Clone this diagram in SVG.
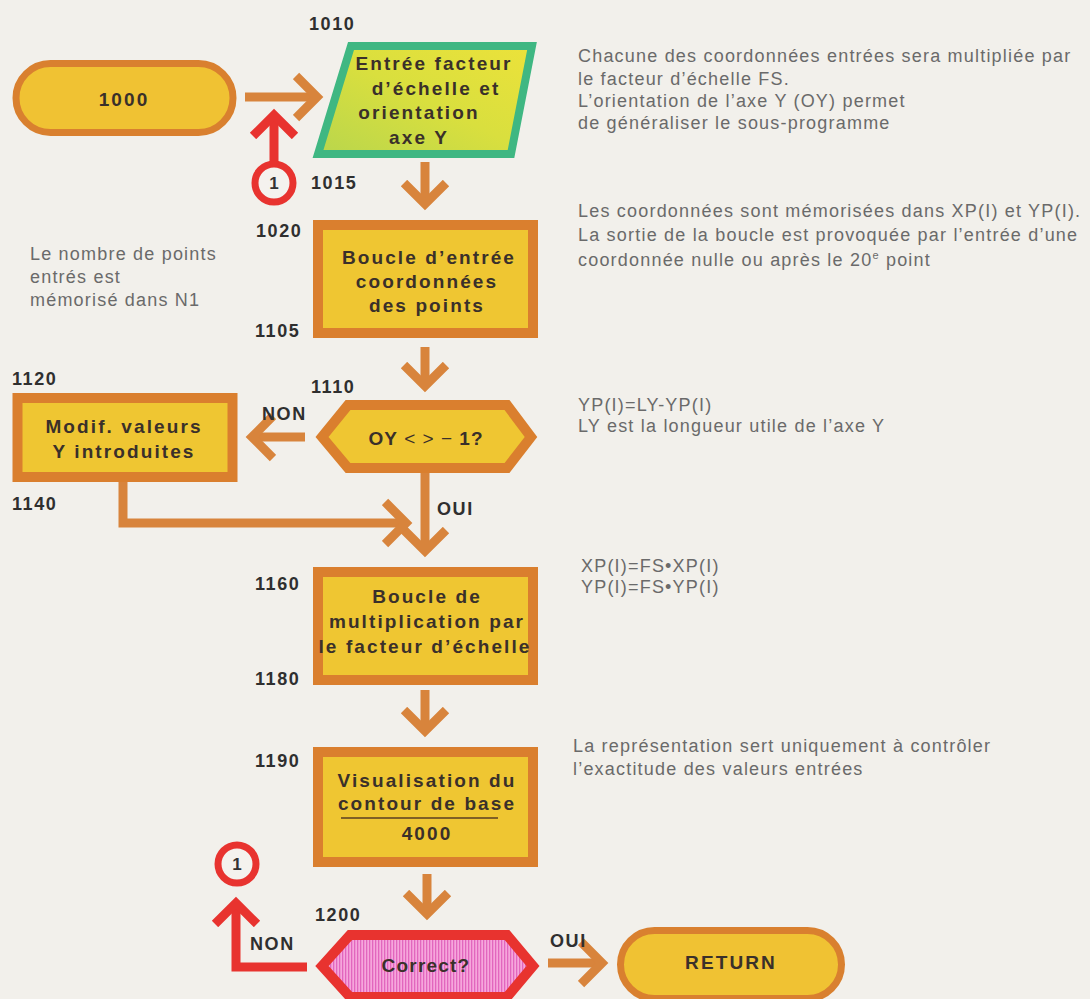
<svg xmlns="http://www.w3.org/2000/svg" width="1090" height="999" viewBox="0 0 1090 999">
  <defs>
    <style>
      .bg { fill: #f2f0eb; }
      .box { fill: #efc632; stroke: #da7f2e; stroke-width: 10; }
      .pill { fill: #f0c233; stroke: #d9802f; stroke-width: 7; }
      .hex { fill: #efc632; stroke: #da7f2e; stroke-width: 10; stroke-linejoin: miter; }
      .hexred { fill: url(#pinkStripes); stroke: #e8332f; stroke-width: 10; stroke-linejoin: miter; }
      .para { fill: url(#paraFill); stroke: #3fb782; stroke-width: 8; stroke-linejoin: miter; }
      .node { font-family: "Liberation Sans", Arial, Helvetica, sans-serif; font-weight: bold; font-size: 19px; letter-spacing: 2.1px; fill: #3a302a; text-anchor: middle; }
      .lbl { font-family: "Liberation Sans", Arial, Helvetica, sans-serif; font-weight: bold; font-size: 18px; letter-spacing: 1.6px; fill: #2f2f2f; }
      .note { font-family: "Liberation Sans", Arial, Helvetica, sans-serif; font-size: 18px; letter-spacing: 1.2px; fill: #6a6a6a; }
      .wire { fill: none; stroke: #d8843c; stroke-width: 9; stroke-linejoin: miter; }
      .wirered { fill: none; stroke: #e8332f; stroke-width: 9; stroke-linejoin: miter; }
      .ring { fill: #f4f2ee; stroke: #e8332f; stroke-width: 7; }
      .ringtxt { font-family: "Liberation Sans", Arial, Helvetica, sans-serif; font-weight: bold; font-size: 17px; fill: #333; text-anchor: middle; }
    </style>
    <linearGradient id="paraFill" x1="0" y1="1" x2="1" y2="0">
      <stop offset="0" stop-color="#b9d64c"/>
      <stop offset="0.5" stop-color="#d9df3e"/>
      <stop offset="1" stop-color="#ece23a"/>
    </linearGradient>
    <pattern id="pinkStripes" width="3" height="10" patternUnits="userSpaceOnUse">
      <rect width="3" height="10" fill="#f6a6dc"/>
      <rect width="1.3" height="10" fill="#e266be"/>
    </pattern>
    <marker id="headOrange" viewBox="0 0 34 50" refX="24" refY="25" markerWidth="34" markerHeight="50" orient="auto" markerUnits="userSpaceOnUse">
      <path d="M3,4 L24,25 L3,46" fill="none" stroke="#d8843c" stroke-width="9"/>
    </marker>
    <marker id="headRed" viewBox="0 0 34 50" refX="24" refY="25" markerWidth="34" markerHeight="50" orient="auto" markerUnits="userSpaceOnUse">
      <path d="M3,4 L24,25 L3,46" fill="none" stroke="#e8332f" stroke-width="9"/>
    </marker>
  </defs>

  <rect class="bg" x="0" y="0" width="1090" height="999"/>

  <!-- connectors -->
  <g id="connectors">
    <line class="wire" x1="245" y1="97" x2="317" y2="97" marker-end="url(#headOrange)"/>
    <line class="wirered" x1="274" y1="162" x2="274" y2="115" marker-end="url(#headRed)"/>
    <line class="wire" x1="425" y1="162" x2="425" y2="204" marker-end="url(#headOrange)"/>
    <line class="wire" x1="425" y1="347" x2="425" y2="386" marker-end="url(#headOrange)"/>
    <line class="wire" x1="305" y1="437" x2="252" y2="437" marker-end="url(#headOrange)"/>
    <line class="wire" x1="425" y1="473" x2="425" y2="551" marker-end="url(#headOrange)"/>
    <polyline class="wire" points="123,482 123,523 406,523" marker-end="url(#headOrange)"/>
    <line class="wire" x1="425" y1="690" x2="425" y2="731" marker-end="url(#headOrange)"/>
    <line class="wire" x1="427" y1="874" x2="427" y2="914" marker-end="url(#headOrange)"/>
    <polyline class="wirered" points="307,967 236,967 236,903" marker-end="url(#headRed)"/>
    <line class="wire" x1="548" y1="963" x2="602" y2="963" marker-end="url(#headOrange)"/>
  </g>

  <!-- step labels -->
  <g id="labels">
    <text class="lbl" x="309" y="30">1010</text>
    <text class="lbl" x="311" y="189">1015</text>
    <text class="lbl" x="256" y="237">1020</text>
    <text class="lbl" x="255" y="337">1105</text>
    <text class="lbl" x="311" y="393">1110</text>
    <text class="lbl" x="12" y="385">1120</text>
    <text class="lbl" x="262" y="420">NON</text>
    <text class="lbl" x="12" y="510">1140</text>
    <text class="lbl" x="437" y="515">OUI</text>
    <text class="lbl" x="255" y="590">1160</text>
    <text class="lbl" x="255" y="685">1180</text>
    <text class="lbl" x="255" y="767">1190</text>
    <text class="lbl" x="315" y="921">1200</text>
    <text class="lbl" x="250" y="950">NON</text>
    <text class="lbl" x="550" y="947">OUI</text>
  </g>

  <!-- side notes -->
  <g id="notes">
    <text class="note" x="30" y="260">Le nombre de points</text>
    <text class="note" x="30" y="283">entrés est</text>
    <text class="note" x="30" y="306">mémorisé dans N1</text>

    <text class="note" x="578" y="62">Chacune des coordonnées entrées sera multipliée par</text>
    <text class="note" x="578" y="85">le facteur d’échelle FS.</text>
    <text class="note" x="578" y="107">L’orientation de l’axe Y (OY) permet</text>
    <text class="note" x="578" y="129">de généraliser le sous-programme</text>

    <text class="note" x="578" y="217">Les coordonnées sont mémorisées dans XP(I) et YP(I).</text>
    <text class="note" x="578" y="241">La sortie de la boucle est provoquée par l’entrée d’une</text>
    <text class="note" x="578" y="266">coordonnée nulle ou après le 20<tspan font-size="11" dy="-7">e</tspan><tspan dy="7"> point</tspan></text>

    <text class="note" x="578" y="411">YP(I)=LY-YP(I)</text>
    <text class="note" x="578" y="432">LY est la longueur utile de l’axe Y</text>

    <text class="note" x="581" y="572">XP(I)=FS•XP(I)</text>
    <text class="note" x="581" y="593">YP(I)=FS•YP(I)</text>

    <text class="note" x="573" y="752">La représentation sert uniquement à contrôler</text>
    <text class="note" x="573" y="775">l’exactitude des valeurs entrées</text>
  </g>

  <!-- nodes -->
  <g id="n1000">
    <rect class="pill" x="16" y="63.5" width="217" height="69" rx="34.5"/>
    <text class="node" x="124" y="106">1000</text>
  </g>

  <g id="n1010">
    <polygon class="para" points="351,46 532,46 511,154 318,154"/>
    <text class="node" x="434" y="70">Entrée facteur</text>
    <text class="node" x="436" y="95">d’échelle et</text>
    <text class="node" x="419" y="119">orientation</text>
    <text class="node" x="419" y="144">axe Y</text>
  </g>

  <g id="c1015">
    <circle class="ring" cx="274" cy="183" r="19"/>
    <text class="ringtxt" x="274" y="189">1</text>
  </g>

  <g id="n1020">
    <rect class="box" x="318" y="225" width="215" height="108"/>
    <text class="node" x="429" y="264">Boucle d’entrée</text>
    <text class="node" x="427" y="288">coordonnées</text>
    <text class="node" x="427" y="312">des points</text>
  </g>

  <g id="n1110">
    <polygon class="hex" points="322,437 348,405 507,405 531,437 507,468 348,468"/>
    <text class="node" x="426" y="445" style="letter-spacing:1px"><tspan font-weight="bold">OY</tspan><tspan font-weight="normal"> &lt; &gt; − </tspan><tspan font-weight="bold">1?</tspan></text>
  </g>

  <g id="n1120">
    <rect class="box" x="17.5" y="398" width="215" height="79"/>
    <text class="node" x="124" y="433">Modif. valeurs</text>
    <text class="node" x="124" y="458">Y introduites</text>
  </g>

  <g id="n1160">
    <rect class="box" x="318" y="572" width="215" height="108"/>
    <text class="node" x="427" y="603">Boucle de</text>
    <text class="node" x="427" y="628">multiplication par</text>
    <text class="node" x="425" y="653">le facteur d’échelle</text>
  </g>

  <g id="n1190">
    <rect class="box" x="318" y="752" width="215" height="110"/>
    <text class="node" x="427" y="787">Visualisation du</text>
    <text class="node" x="427" y="810">contour de base</text>
    <line x1="341" y1="818" x2="498" y2="818" stroke="#5a3e22" stroke-width="1.6"/>
    <text class="node" x="427" y="840">4000</text>
  </g>

  <g id="c1200">
    <circle class="ring" cx="237" cy="864" r="19"/>
    <text class="ringtxt" x="237" y="870">1</text>
  </g>

  <g id="n1200">
    <polygon class="hexred" points="322,966 350,935 507,935 533,966 507,997 350,997"/>
    <text class="node" x="426" y="972" style="letter-spacing:1.2px">Correct?</text>
  </g>

  <g id="nReturn">
    <rect class="pill" x="620.5" y="930.5" width="221" height="68" rx="34"/>
    <text class="node" x="731" y="969">RETURN</text>
  </g>
</svg>
